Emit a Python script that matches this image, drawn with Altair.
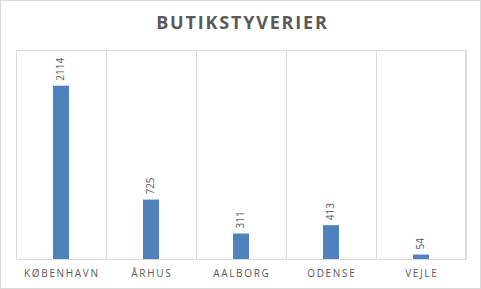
import altair as alt
import pandas as pd

cities = ["KØBENHAVN", "ÅRHUS", "AALBORG", "ODENSE", "VEJLE"]
values = [2114, 725, 311, 413, 54]
title_text = "BUTIKSTYVERIER"

HS = "\u200a"
def spaced(s, sep=HS):
    return sep.join(list(s))

labels = [spaced(c, "\u2009") for c in cities]
df = pd.DataFrame({"city": labels, "value": values})

W, H = 450, 209
PL, PT, PR, PB = 16, 50, 15, 30

x = alt.X("city:N", sort=labels, title=None,
          scale=alt.Scale(paddingInner=0, paddingOuter=0),
          axis=alt.Axis(grid=True, bandPosition=0, gridColor="#d9d9d9", gridWidth=1,
                        ticks=False, domain=True, domainColor="#d9d9d9",
                        labelAngle=0, labelColor="#595959", labelFont="Open Sans",
                        labelFontSize=10, labelPadding=9))
y = alt.Y("value:Q", title=None, scale=alt.Scale(domain=[0, 2550], nice=False),
          axis=None)

base = alt.Chart(df)
bars = base.mark_bar(size=16, color="#4f81bd").encode(x=x, y=y)
text = base.mark_text(angle=270, align="left", baseline="middle", dx=5,
                      color="#595959", font="Open Sans", fontSize=10).encode(
    x=alt.X("city:N", sort=labels), y="value:Q", text=alt.Text("value:Q"))
right = alt.Chart(df).mark_rule(color="#d9d9d9").encode(
    x=alt.value(W), y=alt.value(0), y2=alt.value(H))
border = alt.Chart(df).mark_rect(fill=None, stroke="#d9d9d9", strokeWidth=1).encode(
    x=alt.value(-PL + 0.5), x2=alt.value(W + PR - 0.5),
    y=alt.value(-PT + 0.5), y2=alt.value(H + PB - 0.5))
title = alt.Chart(pd.DataFrame({"t": [spaced(title_text)]})).mark_text(
    font="Open Sans", fontSize=18, fontWeight="bold", color="#595959",
    align="center", baseline="alphabetic").encode(
    x=alt.value(W / 2 + 1 - 0.5), y=alt.value(-PT + 29), text="t:N")

chart = alt.layer(border, right, bars, text, title).properties(
    width=W, height=H,
    autosize=alt.AutoSizeParams(type="none"),
    padding={"left": PL, "top": PT, "right": PR, "bottom": PB},
).configure_view(stroke=None).configure(background="white")

chart.save("out.html", embed_options={"renderer": "svg", "actions": False})
